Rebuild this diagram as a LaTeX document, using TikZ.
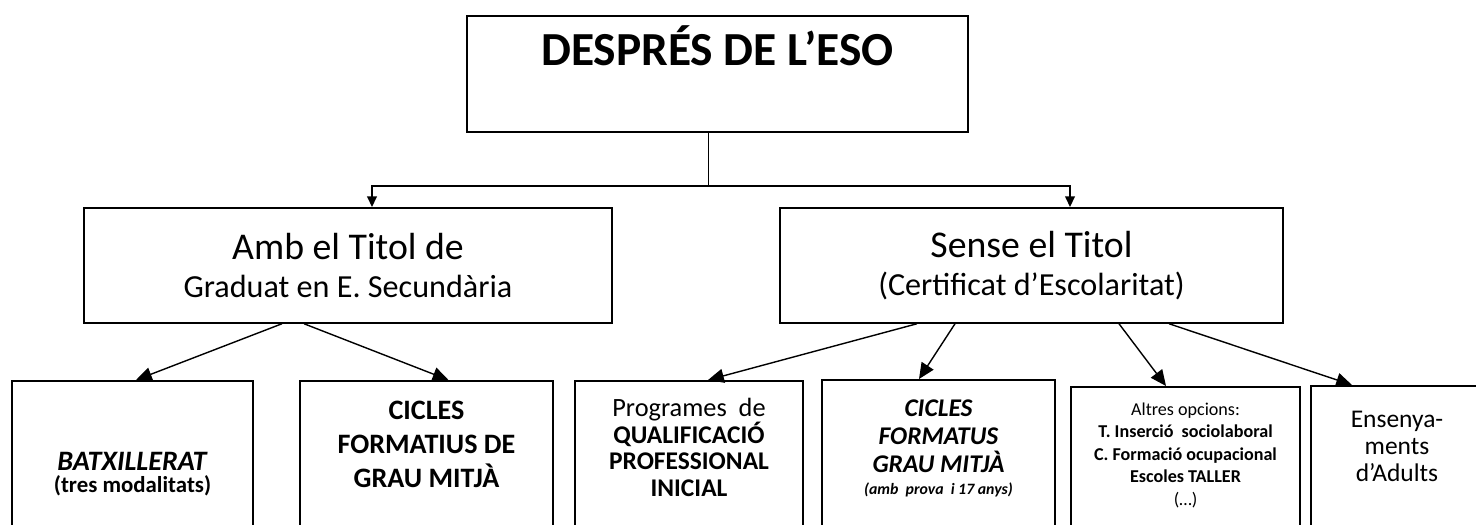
\documentclass[tikz,border=0pt]{standalone}
\usepackage{fontspec}
\setmainfont{Carlito}
\usetikzlibrary{arrows.meta}
\usetikzlibrary{positioning,calc}
\tikzstyle{box} = [rectangle, draw=black, line width=1pt, anchor=north, align=center, inner xsep=2pt]
\tikzstyle{deepbox} = [box, text depth=4cm]
\tikzstyle{link} = [line width=0.8pt]
\tikzstyle{arrow} = [link, -{Triangle[length=9pt,width=8pt]}]
\tikzstyle{smallarrow} = [link, -{Triangle[length=6pt,width=5.5pt]}]

\begin{document}
\begin{tikzpicture}[x=0.02cm, y=-0.02cm]
\useasboundingbox (0,0) rectangle (1476,524);

% top
\node (eso) [box, minimum width=10.02cm, inner ysep=0.2cm, text depth=1.13cm,
  font=\fontsize{27}{30}\selectfont\bfseries] at (717.5,15) {DESPRÉS DE L’ESO};

% with / without the title
\node (amb) [box, minimum width=10.56cm, minimum height=2.3cm,
  font=\fontsize{21.5}{21.8}\selectfont] at (348,207)
  {Amb el Titol de\\{\fontsize{18.3}{20}\selectfont Graduat en E. Secundària}};
\node (sense) [box, minimum width=10.06cm, minimum height=2.3cm,
  font=\fontsize{21.5}{21.8}\selectfont] at (1031.5,207)
  {Sense el Titol\\{\fontsize{18.3}{20}\selectfont (Certificat d’Escolaritat)}};

% options
\node (batx) [deepbox, minimum width=4.82cm, inner ysep=1.42cm,
  font=\fontsize{16}{12.5}\selectfont\bfseries] at (132.5,380)
  {\textit{BATXILLERAT}\\{\fontsize{13}{14}\selectfont (tres modalitats)}};
\node (cicles) [deepbox, minimum width=5.06cm, inner ysep=0.4cm,
  font=\fontsize{16}{19.3}\selectfont\bfseries] at (426.5,380)
  {CICLES\\FORMATIUS DE\\GRAU MITJÀ};
\node (prog) [deepbox, minimum width=4.56cm, inner ysep=0.34cm,
  font=\fontsize{14.5}{15.3}\selectfont\bfseries] at (689,380)
  {{\fontsize{15}{15}\selectfont\mdseries Programes\ \ de}\\QUALIFICACIÓ\\PROFESSIONAL\\INICIAL};
\node (cicfor) [deepbox, minimum width=4.66cm, inner ysep=0.4cm,
  font=\fontsize{14.5}{15.8}\selectfont\bfseries\itshape] at (938.5,379)
  {CICLES\\FORMATUS\\GRAU MITJÀ\\[-3pt]{\fontsize{9}{10}\selectfont (amb\ \ prova\ \ i 17 anys)}};
\node (altres) [deepbox, minimum width=4.58cm, inner ysep=0.32cm,
  font=\fontsize{10.3}{12.8}\selectfont] at (1185.5,386)
  {Altres opcions:\\\textbf{T. Inserció\ \ sociolaboral}\\\textbf{C. Formació ocupacional}\\\textbf{Escoles TALLER}\\(…)};
\node (adults) [deepbox, minimum width=3.44cm, inner ysep=0.5cm,
  font=\fontsize{14.5}{15.5}\selectfont] at (1397,385)
  {Ensenya-\\ments\\d’Adults};

% connectors
\draw[link] ($(eso.south)+(-9,0)$) -- ++(0,53) coordinate (split);
\draw[smallarrow] (split) -| ($(amb.north)+(24,0)$);
\draw[smallarrow] (split) -| ($(sense.north)+(38.5,0)$);

\draw[arrow] ($(amb.south)+(-66,0)$) -- ($(batx.north)+(3.5,0)$);
\draw[arrow] ($(amb.south)+(-44,0)$) -- ($(cicles.north)+(22,0)$);
\draw[arrow] ($(sense.south)+(-114.5,0)$) -- ($(prog.north)+(19,0)$);
\draw[arrow] ($(sense.south)+(-76.5,0)$) -- ($(cicfor.north)+(-19.5,0)$);
\draw[arrow] ($(sense.south)+(87.5,0)$) -- ($(altres.north)+(-19.5,0)$);
\draw[arrow] ($(sense.south)+(137.5,0)$) -- ($(adults.north)+(-45,0)$);
\end{tikzpicture}
\end{document}
